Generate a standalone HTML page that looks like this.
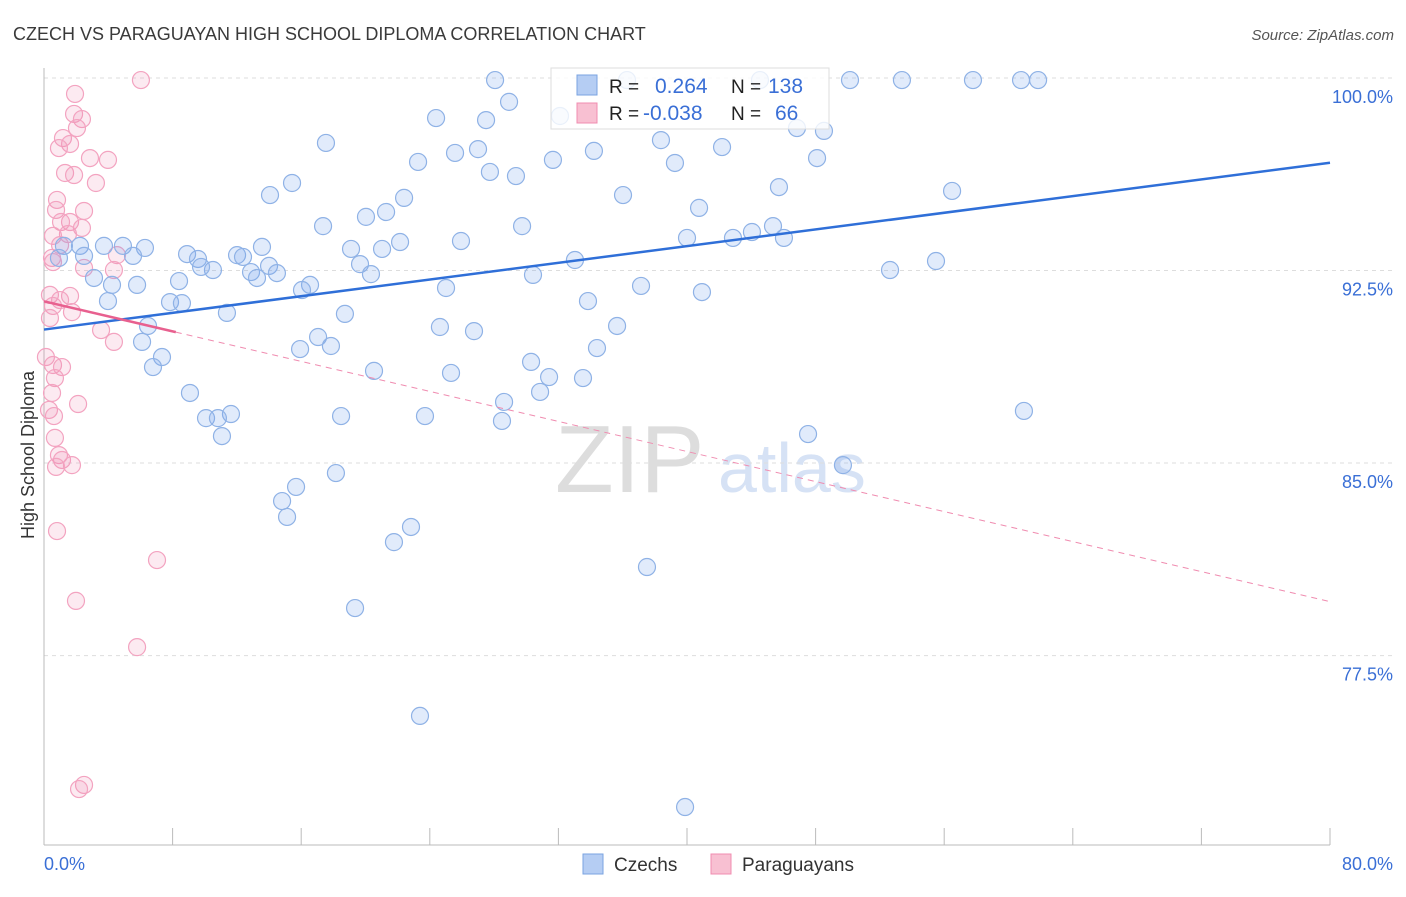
<!DOCTYPE html>
<html><head><meta charset="utf-8"><style>
body{margin:0;background:#fff;font-family:"Liberation Sans",sans-serif;}
svg text{font-family:"Liberation Sans",sans-serif;}
</style></head><body>
<svg id="chart" width="1406" height="892" xmlns="http://www.w3.org/2000/svg">
<text x="13" y="40" font-size="18" fill="#3a3a3a">CZECH VS PARAGUAYAN HIGH SCHOOL DIPLOMA CORRELATION CHART</text>
<text x="1394" y="40" font-size="15" fill="#555" text-anchor="end" font-style="italic">Source: ZipAtlas.com</text>
<text transform="translate(34,455) rotate(-90)" font-size="18" fill="#333" text-anchor="middle">High School Diploma</text>
<text x="555" y="492" font-size="96" fill="#ddd" font-family="Liberation Serif">ZIP</text>
<text x="718" y="492" font-size="70" fill="#d6e2f5">atlas</text>
<g id="grid"></g><g id="axes"></g><g id="pts"></g><g id="lines"></g>
<g>
<rect x="551" y="68" width="278" height="61" fill="rgba(255,255,255,0.8)" stroke="#ddd"/>
<rect x="577" y="75" width="20" height="20" fill="#b5cdf3" stroke="#7aa3e0"/>
<rect x="577" y="103" width="20" height="20" fill="#f8c0d2" stroke="#f08cb0"/>
<text x="609" y="93" font-size="19" fill="#222">R =</text>
<text x="655" y="93" font-size="21" fill="#3a6fd6">0.264</text>
<text x="731" y="93" font-size="19" fill="#222">N =</text>
<text x="768" y="93" font-size="21" fill="#3a6fd6">138</text>
<text x="609" y="120" font-size="19" fill="#222">R =</text>
<text x="643" y="120" font-size="21" fill="#3a6fd6">-0.038</text>
<text x="731" y="120" font-size="19" fill="#222">N =</text>
<text x="775" y="120" font-size="21" fill="#3a6fd6">66</text>
</g>
<g>
<rect x="583" y="854" width="20" height="20" fill="#b5cdf3" stroke="#7aa3e0"/>
<text x="614" y="871" font-size="19" fill="#333">Czechs</text>
<rect x="711" y="854" width="20" height="20" fill="#f8c0d2" stroke="#f08cb0"/>
<text x="742" y="871" font-size="19" fill="#333">Paraguayans</text>
</g>
</svg>
<script>
const blueX=[28.06,36.27,44.54,50.14,53.37,57.79,60.78,61.84,28.93,24.39,27.50,32.10,46.84,48.52,17.54,27.00,25.57,23.27,31.66,34.21,38.38,39.25,42.18,48.09,27.74,29.36,15.43,14.06,22.40,36.02,45.72,56.49,21.28,20.03,17.36,29.74,40.75,45.35,44.04,42.86,46.03,40.00,25.94,22.15,19.10,21.03,13.56,4.91,3.73,2.24,1.24,0.93,2.49,6.28,5.54,8.90,9.58,10.51,9.77,12.01,12.38,12.88,13.25,14.00,14.49,19.66,20.34,33.03,52.63,55.49,3.11,4.23,5.79,8.40,16.55,16.05,25.01,30.42,37.14,40.93,3.98,7.84,8.58,11.38,18.72,33.84,6.47,35.65,24.63,26.75,17.05,17.85,15.93,6.10,34.40,7.34,6.78,30.30,20.53,25.32,31.42,33.53,9.08,30.86,28.62,60.96,11.63,10.08,10.82,18.48,23.70,28.49,11.07,47.53,49.70,18.16,15.68,14.81,15.12,22.83,21.77,37.51,19.35,23.39,39.88];
const blueY=[99.92,99.92,99.92,99.92,99.92,99.92,99.92,99.92,99.07,98.44,98.36,98.52,98.05,97.94,97.47,97.23,97.08,96.73,96.81,97.16,97.58,96.69,97.31,96.88,96.34,96.18,95.91,95.44,95.33,95.44,95.75,95.60,94.78,94.59,94.23,94.23,94.94,94.23,94.00,93.77,93.77,93.77,93.65,93.61,93.34,93.34,93.42,93.46,93.46,93.46,93.46,92.99,93.07,93.38,93.07,93.14,92.95,92.52,92.64,93.10,93.03,92.44,92.21,92.68,92.40,92.75,92.36,92.91,92.52,92.87,92.21,91.94,91.94,92.09,91.94,91.74,91.82,92.33,91.90,91.66,91.31,91.27,91.23,90.85,90.81,91.31,90.34,90.34,90.30,90.14,89.91,89.56,89.44,89.72,89.48,89.13,88.74,88.94,88.59,88.51,88.35,88.31,87.73,87.77,87.38,87.03,86.91,86.75,86.75,86.83,86.83,86.64,86.05,86.13,84.92,84.61,84.07,83.52,82.90,82.51,81.92,80.95,79.35,75.15,71.60];
const pinkX=[6.03,1.93,1.87,2.36,2.05,1.18,1.62,0.93,2.86,3.98,1.31,1.87,3.23,0.81,2.49,0.75,1.62,1.06,2.36,1.49,0.56,1.00,0.50,4.54,2.49,4.35,0.37,1.62,1.00,0.56,1.74,0.37,3.55,4.35,0.12,0.56,1.12,0.68,0.50,2.12,0.31,0.62,0.68,0.93,1.12,1.74,0.75,0.81,7.03,1.99,5.79,2.49,2.18,0.56];
const pinkY=[99.92,99.38,98.60,98.40,98.05,97.66,97.43,97.27,96.88,96.81,96.30,96.22,95.91,95.25,94.82,94.86,94.39,94.39,94.16,93.92,93.85,93.49,92.99,93.10,92.60,92.52,91.55,91.51,91.35,91.12,90.88,90.65,90.18,89.72,89.13,88.82,88.74,88.31,87.73,87.30,87.07,86.83,85.98,85.31,85.12,84.92,84.85,82.35,81.22,79.63,77.83,72.46,72.30,92.83];
const yTicks=[100,92.5,85,77.5];
const yTickLabels=["100.0%","92.5%","85.0%","77.5%"];
const blueFit=[90.2,96.7];
const pinkFit=[91.3,79.6];
const NS="http://www.w3.org/2000/svg";
const X=v=>44+v/80*1286, Y=v=>78+(100-v)*25.67;
function mk(t,a,p){const e=document.createElementNS(NS,t);for(const k in a)e.setAttribute(k,a[k]);p.appendChild(e);return e;}
const grid=document.getElementById('grid'),axes=document.getElementById('axes'),pts=document.getElementById('pts'),lines=document.getElementById('lines');
yTicks.forEach((t,i)=>{const l=mk('line',{x1:44,x2:1395,y1:Y(t),y2:Y(t),stroke:'#ddd','stroke-dasharray':'4,4'},grid);


const tx=mk('text',{x:1393,y:Y(t)+25,'font-size':18,fill:'#3a6fd6','text-anchor':'end'},grid);tx.textContent=yTickLabels[i];

});
mk('line',{x1:44,x2:44,y1:68,y2:845,stroke:'#bbb'},axes);
mk('line',{x1:44,x2:1330,y1:845,y2:845,stroke:'#bbb'},axes);
for(let i=0;i<=10;i++){const t=mk('line',{x1:X(i*8),x2:X(i*8),y1:828,y2:845,stroke:'#bbb'},axes);

}
let a=mk('text',{x:44,y:870,'font-size':18,fill:'#3a6fd6'},axes);a.textContent='0.0%';


a=mk('text',{x:1393,y:870,'font-size':18,fill:'#3a6fd6','text-anchor':'end'},axes);a.textContent='80.0%';


pinkX.forEach((x,i)=>{const c=mk('circle',{cx:X(x),cy:Y(pinkY[i]),r:8.5,fill:'rgba(240,140,175,0.18)',stroke:'#f3a3c0','stroke-width':1.2},pts);

});
blueX.forEach((x,i)=>{const c=mk('circle',{cx:X(x),cy:Y(blueY[i]),r:8.5,fill:'rgba(120,165,235,0.22)',stroke:'#8fb2e6','stroke-width':1.2},pts);

});
let l=mk('line',{x1:X(0),y1:Y(blueFit[0]),x2:X(80),y2:Y(blueFit[1]),stroke:'#2f6fd8','stroke-width':2.5},lines);


const py=x=>pinkFit[0]+(pinkFit[1]-pinkFit[0])*x/80;
l=mk('line',{x1:X(8.2),y1:Y(py(8.2)),x2:X(80),y2:Y(py(80)),stroke:'#f08cb0','stroke-width':1,'stroke-dasharray':'6,5'},lines);


l=mk('line',{x1:X(0),y1:Y(py(0)),x2:X(8.2),y2:Y(py(8.2)),stroke:'#e8608f','stroke-width':2.5},lines);


</script>
</body></html>
